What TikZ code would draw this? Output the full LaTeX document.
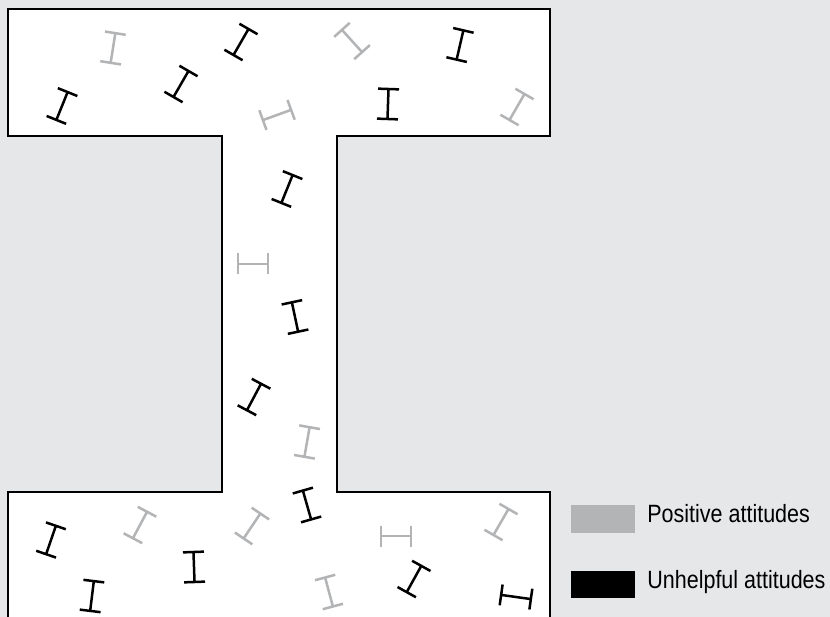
\documentclass[tikz,border=0pt]{standalone}
\usepackage{fontspec}
\setmainfont{Liberation Sans}
\newfontfamily\legendfont[FakeStretch=0.86]{Liberation Sans}
\usetikzlibrary{positioning}
\definecolor{bgfill}{HTML}{E6E7E9}
\definecolor{posgray}{HTML}{B3B4B6}

\begin{document}
\begin{tikzpicture}[
  x=1pt, y=-1pt,
  outline/.style={draw=black, line width=2.7pt, fill=white, line join=miter},
  glyph/.style={line width=2.5pt},
  posbeam/.style={color=posgray},
  negbeam/.style={color=black},
  beam/.pic={\draw[glyph] (-10.5,-15) -- (10.5,-15) (0,-15) -- (0,15) (-10.5,15) -- (10.5,15);},
  keybox/.style={minimum width=64pt, minimum height=28pt, inner sep=0pt},
  legendtext/.style={font=\legendfont\fontsize{25}{29}\selectfont, inner sep=0pt, text height=0.9em, text depth=0.2em}
]

\useasboundingbox (0,0) rectangle (830,617);
\fill[bgfill] (0,0) rectangle (830,617);

% the beam
\draw[outline] (8,617) -- (8,492) -- (222,492) -- (222,136) -- (8,136) -- (8,9)
  -- (550,9) -- (550,136) -- (337,136) -- (337,492) -- (550,492) -- (550,617);

% positive attitudes
\pic[posbeam, rotate=-9] at (113,48) {beam};
\pic[posbeam, rotate=-70] at (277,115) {beam};
\pic[posbeam, rotate=42] at (352,41) {beam};
\pic[posbeam, rotate=-30] at (517,107) {beam};
\pic[posbeam, rotate=-90] at (253,264) {beam};
\pic[posbeam, rotate=-10] at (307,442) {beam};
\pic[posbeam, rotate=-28] at (140,525) {beam};
\pic[posbeam, rotate=-34] at (252,526) {beam};
\pic[posbeam, rotate=-90] at (396,536) {beam};
\pic[posbeam, rotate=-30] at (501,522) {beam};
\pic[posbeam, rotate=15] at (329,592) {beam};

% unhelpful attitudes
\pic[negbeam, rotate=-22] at (62,106) {beam};
\pic[negbeam, rotate=-30] at (181,84) {beam};
\pic[negbeam, rotate=-30] at (241,42) {beam};
\pic[negbeam, rotate=-13] at (460,45) {beam};
\pic[negbeam, rotate=-2] at (388,104) {beam};
\pic[negbeam, rotate=-22] at (287,189) {beam};
\pic[negbeam, rotate=12] at (295,317) {beam};
\pic[negbeam, rotate=-28] at (254,397) {beam};
\pic[negbeam, rotate=16] at (307,505) {beam};
\pic[negbeam, rotate=-19] at (51,540) {beam};
\pic[negbeam, rotate=2] at (194,567) {beam};
\pic[negbeam, rotate=-7] at (92,596) {beam};
\pic[negbeam, rotate=-29] at (414,579) {beam};
\pic[negbeam, rotate=-98] at (516,597) {beam};

% legend
\node[keybox, fill=posgray] (graykey) at (603,519) {};
\node[keybox, fill=black, minimum height=27pt, below=38pt of graykey] (blackkey) {};
\node[legendtext, right=12pt of graykey] (graylabel) {Positive attitudes};
\node[legendtext, right=12pt of blackkey] (blacklabel) {Unhelpful attitudes};

\end{tikzpicture}
\end{document}
